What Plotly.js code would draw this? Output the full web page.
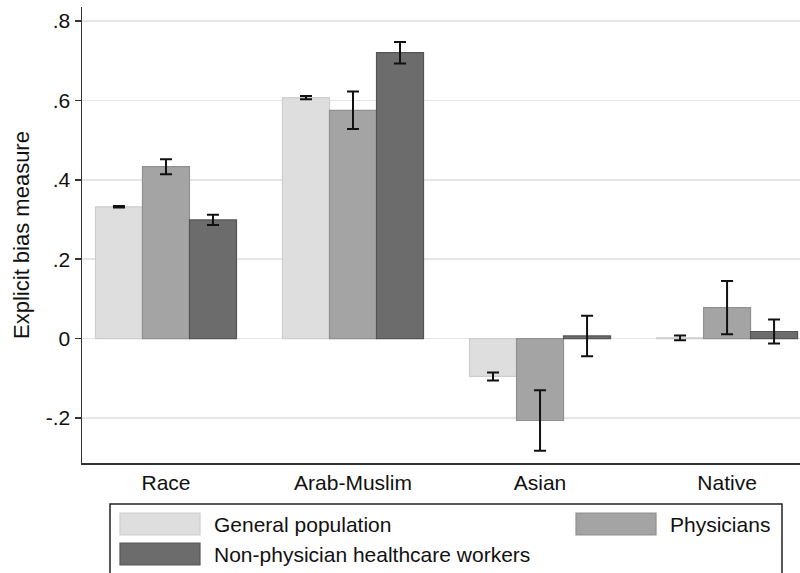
<!DOCTYPE html>
<html>
<head>
<meta charset="utf-8">
<script src="https://cdn.plot.ly/plotly-3.0.1.min.js"></script>
<style>html,body{margin:0;padding:0;background:#fff}#chart{width:800px;height:573px}</style>
</head>
<body>
<div id="chart"></div>
<script>
// ---- data ----
const categories = ["Race", "Arab-Muslim", "Asian", "Native"];
const seriesNames = ["General population", "Physicians", "Non-physician healthcare workers"];
const generalValues = [0.332, 0.607, -0.095, 0.002];
const generalErrors = [0.002, 0.004, 0.010, 0.006];
const physicianValues = [0.433, 0.575, -0.206, 0.078];
const physicianErrors = [0.019, 0.047, 0.076, 0.067];
const nonPhysValues = [0.299, 0.720, 0.007, 0.018];
const nonPhysErrors = [0.013, 0.027, 0.051, 0.030];
const yTickValues = [-0.2, 0, 0.2, 0.4, 0.6, 0.8];
const yTickLabels = ["-.2", "0", ".2", ".4", ".6", ".8"];

// ---- styles ----
const fills = ["#dedede", "#a4a4a4", "#6c6c6c"];
const borders = ["#cdcdcd", "#909090", "#555555"];
const FONT = "Liberation Sans, Arial, sans-serif";
const FS = 21;
const xpos = categories.map((c, i) => i);

const valueSets = [generalValues, physicianValues, nonPhysValues];
const errorSets = [generalErrors, physicianErrors, nonPhysErrors];

const traces = valueSets.map((vals, k) => ({
  type: "bar",
  name: seriesNames[k],
  x: xpos,
  y: vals,
  marker: {color: fills[k], line: {color: borders[k], width: 1.2}},
  error_y: {type: "data", array: errorSets[k], visible: true, color: "#111", thickness: 2, width: 6},
  hoverinfo: "skip"
}));

// legend built in paper coordinates (plot: x 82..800, y 7..463)
const L = 82, R = 800, T = 7, B = 463;
const px = v => (v - L) / (R - L);
const py = v => (B - v) / (B - T);

const shapes = [
  {type: "rect", xref: "paper", yref: "paper", x0: px(110), x1: px(782), y0: py(504), y1: py(580),
   line: {color: "#222", width: 1.5}, fillcolor: "rgba(0,0,0,0)"},
];
const swatchPos = [[120, 513], [576, 513], [120, 543]];
const textPos = [[212, 524], [668, 524], [212, 554]];
const annotations = [];
seriesNames.forEach((n, k) => {
  const [sx, sy] = swatchPos[k];
  shapes.push({type: "rect", xref: "paper", yref: "paper", x0: px(sx), x1: px(sx + 80), y0: py(sy), y1: py(sy + 22),
    line: {color: borders[k], width: 1.2}, fillcolor: fills[k]});
  annotations.push({xref: "paper", yref: "paper", x: px(textPos[k][0]), y: py(textPos[k][1]), text: n,
    showarrow: false, xanchor: "left", yanchor: "middle", font: {family: FONT, size: FS, color: "#111"}});
});

const layout = {
  width: 800, height: 573,
  margin: {l: L, r: 800 - R, t: T, b: 573 - B},
  paper_bgcolor: "#fff", plot_bgcolor: "#fff",
  barmode: "group", bargap: 0.246, bargroupgap: 0,
  showlegend: false,
  font: {family: FONT, size: FS, color: "#111"},
  xaxis: {
    range: [-0.449, 3.39], tickvals: xpos, ticktext: categories,
    ticks: "", showgrid: false, zeroline: false,
    showline: true, linecolor: "#333", linewidth: 1.5,
    tickfont: {family: FONT, size: FS, color: "#111"}, ticklabelstandoff: 0
  },
  yaxis: {
    range: [-0.313, 0.835], tickvals: yTickValues, ticktext: yTickLabels,
    ticks: "outside", ticklen: 6, tickwidth: 1.5, tickcolor: "#333",
    showgrid: true, gridcolor: "#e6e6e6", gridwidth: 1.5,
    zeroline: true, zerolinecolor: "#e6e6e6", zerolinewidth: 1.5,
    showline: true, linecolor: "#333", linewidth: 1.5,
    tickfont: {family: FONT, size: FS, color: "#111"},
    title: {text: "Explicit bias measure", font: {family: FONT, size: 22, color: "#111"}, standoff: 10}
  },
  shapes: shapes,
  annotations: annotations
};

Plotly.newPlot("chart", traces, layout, {displayModeBar: false, staticPlot: true});
</script>
</body>
</html>
